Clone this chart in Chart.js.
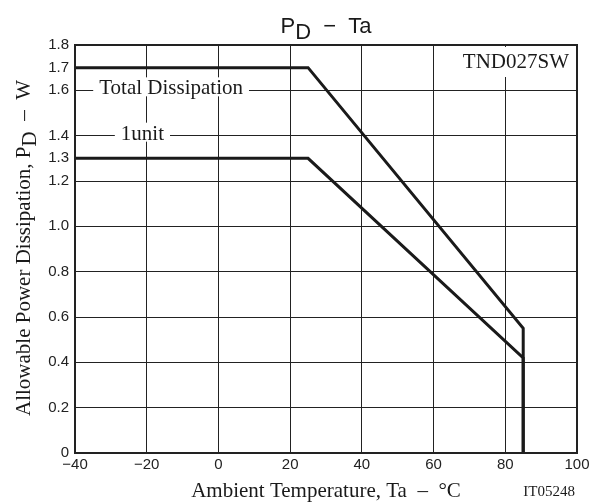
<!DOCTYPE html>
<html><head><meta charset="utf-8">
<script src="https://cdn.jsdelivr.net/npm/chart.js@4/dist/chart.umd.min.js"></script>
<style>html,body{margin:0;padding:0;background:#fff}#wrap{width:602px;height:502px;position:relative}</style>
</head><body><div id="wrap"><canvas id="c" width="602" height="502"></canvas></div>
<script>
const totalX = [-40, 25, 85, 85];
const totalY = [1.7, 1.7, 0.55, 0];
const unitX = [-40, 25, 85, 85];
const unitY = [1.3, 1.3, 0.42, 0];
const yTicks = [0, 0.2, 0.4, 0.6, 0.8, 1.0, 1.2, 1.3, 1.4, 1.6, 1.7, 1.8];
const xTicks = [-40, -20, 0, 20, 40, 60, 80, 100];
const noGridY = [1.3, 1.7];
const curveLabels = [
  {text: 'Total Dissipation', x: -13.2, y: 1.6},
  {text: '1unit', x: -21.2, y: 1.4}
];

const toPts = (xs, ys) => xs.map((x, i) => ({x: x, y: ys[i]}));
const SERIF = '"Liberation Serif", "Times New Roman", serif';
const SANS = '"Liberation Sans", Arial, sans-serif';
const INK = '#1a1a1a';

const textPlugin = {
  id: 'texts',
  afterDraw(chart) {
    const ctx = chart.ctx, xs = chart.scales.x, ys = chart.scales.y, a = chart.chartArea;
    ctx.save();
    ctx.font = '21px ' + SERIF;
    ctx.textBaseline = 'alphabetic';
    ctx.textAlign = 'center';
    curveLabels.forEach(l => {
      const px = xs.getPixelForValue(l.x), py = ys.getPixelForValue(l.y);
      const w = ctx.measureText(l.text).width;
      ctx.fillStyle = '#fff';
      ctx.fillRect(px - w / 2 - 6, py - 13, w + 12, 19);
      ctx.fillStyle = INK;
      ctx.fillText(l.text, px, py + 4);
    });
    ctx.textAlign = 'right';
    const t = 'TND027SW';
    const tw = ctx.measureText(t).width;
    ctx.fillStyle = '#fff';
    ctx.fillRect(a.right - tw - 12, a.top + 2, tw + 8, 30);
    ctx.fillStyle = INK;
    ctx.fillText(t, a.right - 8, a.top + 23);

    // title P_D − Ta
    ctx.font = '22px ' + SANS;
    ctx.textAlign = 'left';
    const p1 = 'P', p2 = 'D', p3 = '  −  Ta';
    const w1 = ctx.measureText(p1).width, w2 = ctx.measureText(p2).width, w3 = ctx.measureText(p3).width;
    let cx = (a.left + a.right) / 2 - (w1 + w2 + w3) / 2;
    const ty = 33;
    ctx.fillText(p1, cx, ty); cx += w1;
    ctx.fillText(p2, cx, ty + 6); cx += w2;
    ctx.fillText(p3, cx, ty);

    // x axis title
    ctx.font = '21px ' + SERIF;
    ctx.textAlign = 'center';
    ctx.fillText('Ambient Temperature, Ta  –  °C', (a.left + a.right) / 2, 497);
    ctx.font = '15px ' + SERIF;
    ctx.textAlign = 'right';
    ctx.fillText('IT05248', a.right - 2, 496);

    // y axis title
    ctx.translate(30, 248);
    ctx.rotate(-Math.PI / 2);
    ctx.font = '21px ' + SERIF;
    ctx.textAlign = 'left';
    const s1 = 'Allowable Power Dissipation, P', s2 = 'D', s3 = '  –  W';
    const v1 = ctx.measureText(s1).width, v2 = ctx.measureText(s2).width, v3 = ctx.measureText(s3).width;
    let sx = -(v1 + v2 + v3) / 2;
    ctx.fillText(s1, sx, 0); sx += v1;
    ctx.fillText(s2, sx, 6); sx += v2;
    ctx.fillText(s3, sx, 0);
    ctx.restore();
  }
};

new Chart(document.getElementById('c'), {
  type: 'line',
  data: {
    datasets: [
      {label: 'Total Dissipation', data: toPts(totalX, totalY), borderColor: INK, borderWidth: 3, pointRadius: 0, fill: false, tension: 0},
      {label: '1unit', data: toPts(unitX, unitY), borderColor: INK, borderWidth: 3, pointRadius: 0, fill: false, tension: 0}
    ]
  },
  options: {
    responsive: false,
    animation: false,
    events: [],
    layout: {padding: {left: 0, top: 45, right: 25, bottom: 0}},
    plugins: {legend: {display: false}, tooltip: {enabled: false}, title: {display: false}},
    scales: {
      x: {
        type: 'linear', min: -40, max: 100,
        afterFit(s) { s.height = 49; },
        afterBuildTicks(s) { s.ticks = xTicks.map(v => ({value: v})); },
        ticks: {
          autoSkip: false, maxRotation: 0, padding: 3,
          color: '#222', font: {family: SANS, size: 15},
          callback: v => String(v).replace('-', '−')
        },
        grid: {color: '#222', lineWidth: 1, drawTicks: false},
        border: {color: '#222', width: 2}
      },
      y: {
        type: 'linear', min: 0, max: 1.8,
        afterFit(s) { s.width = 75; },
        afterBuildTicks(s) { s.ticks = yTicks.map(v => ({value: v})); },
        ticks: {
          autoSkip: false, padding: 6,
          color: '#222', font: {family: SANS, size: 15},
          callback: v => v === 0 ? '0' : Number(v).toFixed(1)
        },
        grid: {
          color: c => (c.tick && noGridY.some(g => Math.abs(g - c.tick.value) < 1e-9)) ? 'rgba(0,0,0,0)' : '#222',
          lineWidth: 1, drawTicks: false
        },
        border: {color: '#222', width: 2}
      }
    }
  },
  plugins: [textPlugin, {
    id: 'frame',
    afterDatasetsDraw(chart) {
      const a = chart.chartArea, ctx = chart.ctx;
      ctx.save(); ctx.strokeStyle = '#222'; ctx.lineWidth = 2;
      ctx.strokeRect(a.left, a.top, a.right - a.left, a.bottom - a.top);
      ctx.restore();
    }
  }]
});
</script></body></html>
